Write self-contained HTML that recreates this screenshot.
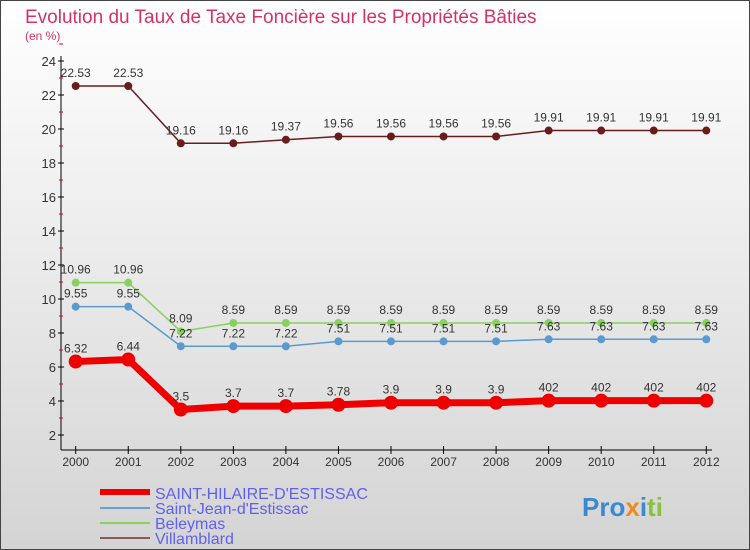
<!DOCTYPE html>
<html><head><meta charset="utf-8"><style>
body{margin:0;}
#c{width:750px;height:550px;position:relative;overflow:hidden;background:linear-gradient(#ffffff,#d4d4d4);font-family:"Liberation Sans",sans-serif;}
</style></head><body>
<div id="c">
<svg id="svg" width="750" height="550" xmlns="http://www.w3.org/2000/svg" style="position:absolute;left:0;top:0">
<rect x="0.5" y="0.5" width="749" height="549" fill="none" stroke="#444"/>
<text x="25" y="23" font-size="19" fill="#d4326a">Evolution du Taux de Taxe Foncière sur les Propriétés Bâties</text>
<text x="25" y="40" font-size="12" fill="#d4326a">(en %)</text>
<g id="axes"></g><g id="series"></g>
<g>
<line x1="100" y1="492" x2="150" y2="492" stroke="#e00" stroke-width="6"/>
<text x="155" y="499" font-size="16" fill="#6060f0">SAINT-HILAIRE-D'ESTISSAC</text>
<line x1="100" y1="508" x2="150" y2="508" stroke="#6aa0d0" stroke-width="2"/>
<text x="155" y="514" font-size="16" fill="#6060f0">Saint-Jean-d'Estissac</text>
<line x1="100" y1="523" x2="150" y2="523" stroke="#88d060" stroke-width="2"/>
<text x="155" y="529" font-size="16" fill="#6060f0">Beleymas</text>
<line x1="100" y1="538" x2="150" y2="538" stroke="#8a5a5a" stroke-width="2"/>
<text x="155" y="544" font-size="16" fill="#6060f0">Villamblard</text>
</g>
<text x="582" y="516" font-size="26" font-weight="bold" fill="#3a8ad0">Pro<tspan fill="#f08a20">x</tspan>i<tspan fill="#88c040">ti</tspan></text>
</svg>
<script>
const years=["2000","2001","2002","2003","2004","2005","2006","2007","2008","2009","2010","2011","2012"];
const yTicks=[2,4,6,8,10,12,14,16,18,20,22,24];
const shValues=[6.32,6.44,3.5,3.7,3.7,3.78,3.9,3.9,3.9,4.02,4.02,4.02,4.02];
const shLabels=["6.32","6.44","3.5","3.7","3.7","3.78","3.9","3.9","3.9","402","402","402","402"];
const sjValues=[9.55,9.55,7.22,7.22,7.22,7.51,7.51,7.51,7.51,7.63,7.63,7.63,7.63];
const sjLabels=["9.55","9.55","7.22","7.22","7.22","7.51","7.51","7.51","7.51","7.63","7.63","7.63","7.63"];
const beValues=[10.96,10.96,8.09,8.59,8.59,8.59,8.59,8.59,8.59,8.59,8.59,8.59,8.59];
const beLabels=["10.96","10.96","8.09","8.59","8.59","8.59","8.59","8.59","8.59","8.59","8.59","8.59","8.59"];
const viValues=[22.53,22.53,19.16,19.16,19.37,19.56,19.56,19.56,19.56,19.91,19.91,19.91,19.91];
const viLabels=["22.53","22.53","19.16","19.16","19.37","19.56","19.56","19.56","19.56","19.91","19.91","19.91","19.91"];
const NS="http://www.w3.org/2000/svg";
function X(i){return 75.7+i*52.55;}
function Y(v){return 61+(24-v)*17;}
function mk(t,a,p){const e=document.createElementNS(NS,t);for(const k in a)e.setAttribute(k,a[k]);p.appendChild(e);return e;}
const ax=document.getElementById('axes');
const yl=mk('line',{x1:61,y1:56,x2:61,y2:450,stroke:'#000'},ax);


const xl=mk('line',{x1:61,y1:450,x2:712,y2:450,stroke:'#000'},ax);


yTicks.forEach(v=>{
 mk('line',{x1:58,y1:Y(v),x2:64,y2:Y(v),stroke:'#000'},ax);
 mk('line',{x1:59,y1:Y(v+1),x2:63,y2:Y(v+1),stroke:'#e00'},ax);
 const t=mk('text',{x:56,y:Y(v)+5,'font-size':13,fill:'#333','text-anchor':'end'},ax);t.textContent=v;
 
 
});
years.forEach((y,i)=>{
 mk('line',{x1:X(i),y1:446,x2:X(i),y2:454,stroke:'#000'},ax);
 const t=mk('text',{x:X(i),y:466,'font-size':12,fill:'#333','text-anchor':'middle'},ax);t.textContent=y;
 
 
});
const sg=document.getElementById('series');
function draw(vals,labels,col,w,r,name){
 const g=mk('g',{},sg);
 
 
 mk('polyline',{points:vals.map((v,i)=>X(i)+','+Y(v)).join(' '),fill:'none',stroke:col,'stroke-width':w},g);
 vals.forEach((v,i)=>{
  const c=mk('circle',{cx:X(i),cy:Y(v),r:r,fill:col},g);
  
  
  const t=mk('text',{x:X(i),y:Y(v)-9,'font-size':12,fill:'#333','text-anchor':'middle'},g);t.textContent=labels[i];
  
  
 });
}
draw(viValues,viLabels,'#6a1c1c',1.5,4,'series-villamblard');
draw(beValues,beLabels,'#88d060',1.5,4,'series-beleymas');
draw(sjValues,sjLabels,'#5a9ad0',1.5,4,'series-saint-jean');
draw(shValues,shLabels,'#ee0000',7,7,'series-saint-hilaire');
</script>
</div>
</body></html>
